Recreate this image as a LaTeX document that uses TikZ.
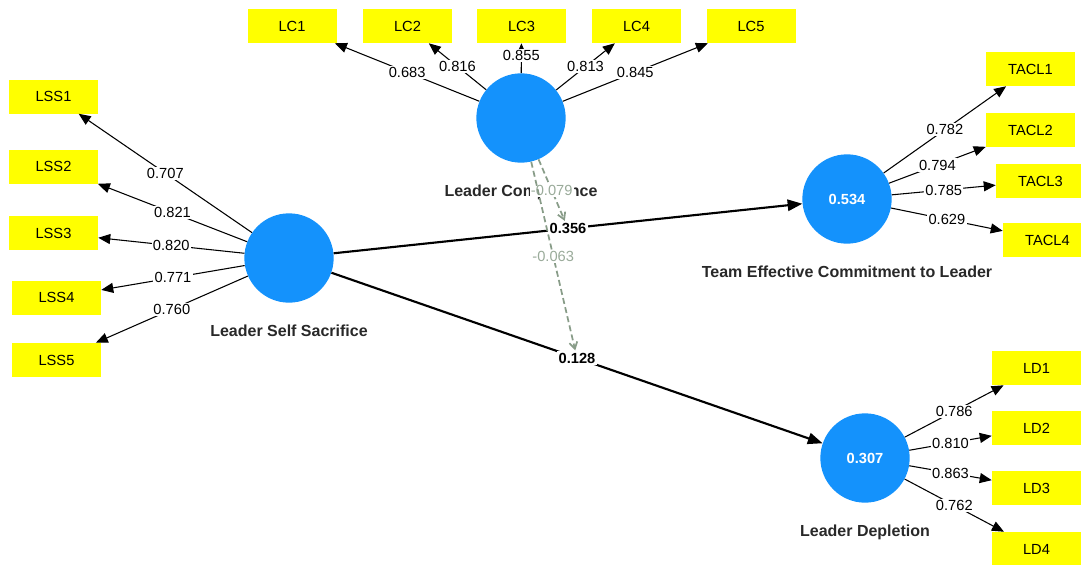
\documentclass[tikz,border=0pt]{standalone}
\usepackage{fontspec}
\setmainfont{Liberation Sans}
\usepackage{xcolor}
\usetikzlibrary{arrows.meta}
\usetikzlibrary{positioning}

\definecolor{lvblue}{RGB}{20,146,252}
\definecolor{indyellow}{RGB}{255,255,0}
\definecolor{modgreen}{RGB}{136,156,136}
\definecolor{namegray}{RGB}{40,40,40}

\begin{document}
\begin{tikzpicture}[x=0.75pt, y=-0.75pt,
  lv/.style={circle, fill=lvblue, minimum size=67pt, inner sep=0pt, text=white, font=\fontsize{11}{13}\selectfont\bfseries},
  ind/.style={fill=indyellow, minimum width=66.75pt, minimum height=25.5pt, inner sep=0pt, font=\fontsize{11}{13}\selectfont},
  lvname/.style={inner sep=0pt, text height=9pt, text depth=2.5pt, text=namegray, font=\fontsize{12}{14}\selectfont\bfseries},
  load/.style={draw, line width=0.8pt, -{Triangle[length=9pt,width=7.5pt]}},
  loadval/.style={fill=white, inner sep=1pt, font=\fontsize{11}{13}\selectfont},
  strpath/.style={draw, line width=1.6pt, -{Triangle[length=11pt,width=8.5pt]}},
  coef/.style={fill=white, inner sep=1pt, font=\fontsize{11}{13}\selectfont\bfseries},
  modpath/.style={draw=modgreen, line width=1.3pt, dash pattern=on 4.5pt off 2.5pt, -{Straight Barb[length=5pt,width=6pt]}},
  modval/.style={fill=white, inner sep=1pt, text=modgreen!85, font=\fontsize{11}{13}\selectfont}
]
  \useasboundingbox (0,0) rectangle (1081,564);
  \clip (0,0) rectangle (1081,564);

  % Latent variables
  \node[lv] (lc) at (521,118) {};
  \node[lv] (lss) at (289,258) {};
  \node[lv] (tacl) at (847,199) {0.534};
  \node[lv] (ld) at (865,458) {0.307};

  \node[lvname, below=16pt of lc] (lcname) {Leader Competence};
  \node[lvname, below=16pt of lss] (lssname) {Leader Self Sacrifice};
  \node[lvname, below=16pt of tacl] (taclname) {Team Effective Commitment to Leader};
  \node[lvname, below=16pt of ld] (ldname) {Leader Depletion};

  % Indicators of Leader Competence
  \node[ind] (lc1) at (292,26) {LC1};
  \node[ind] (lc2) at (407.5,26) {LC2};
  \node[ind] (lc3) at (521.5,26) {LC3};
  \node[ind] (lc4) at (636.5,26) {LC4};
  \node[ind] (lc5) at (751,26) {LC5};

  \draw[load] (lc) -- node[loadval] {0.683} (lc1);
  \draw[load] (lc) -- node[loadval] {0.816} (lc2);
  \draw[load] (lc) -- node[loadval, pos=0.6] {0.855} (lc3);
  \draw[load] (lc) -- node[loadval] {0.813} (lc4);
  \draw[load] (lc) -- node[loadval] {0.845} (lc5);

  % Indicators of Leader Self Sacrifice
  \node[ind] (lss1) at (53.5,96.5) {LSS1};
  \node[ind] (lss2) at (53.5,166.5) {LSS2};
  \node[ind] (lss3) at (53.5,233) {LSS3};
  \node[ind] (lss4) at (56.5,297.5) {LSS4};
  \node[ind] (lss5) at (56.5,360) {LSS5};

  \draw[load] (lss) -- node[loadval] {0.707} (lss1);
  \draw[load] (lss) -- node[loadval] {0.821} (lss2);
  \draw[load] (lss) -- node[loadval] {0.820} (lss3);
  \draw[load] (lss) -- node[loadval] {0.771} (lss4);
  \draw[load] (lss) -- node[loadval] {0.760} (lss5);

  % Indicators of Team Effective Commitment to Leader
  \node[ind] (tacl1) at (1030.5,69) {TACL1};
  \node[ind] (tacl2) at (1030.5,130) {TACL2};
  \node[ind] (tacl3) at (1040.5,181) {TACL3};
  \node[ind] (tacl4) at (1047.5,240) {TACL4};

  \draw[load] (tacl) -- node[loadval] {0.782} (tacl1);
  \draw[load] (tacl) -- node[loadval] {0.794} (tacl2);
  \draw[load] (tacl) -- node[loadval] {0.785} (tacl3);
  \draw[load] (tacl) -- node[loadval] {0.629} (tacl4);

  % Indicators of Leader Depletion
  \node[ind] (ld1) at (1036.5,368) {LD1};
  \node[ind] (ld2) at (1036.5,428) {LD2};
  \node[ind] (ld3) at (1036.5,488) {LD3};
  \node[ind] (ld4) at (1036.5,549) {LD4};

  \draw[load] (ld) -- node[loadval] {0.786} (ld1);
  \draw[load] (ld) -- node[loadval] {0.810} (ld2);
  \draw[load] (ld) -- node[loadval] {0.863} (ld3);
  \draw[load] (ld) -- node[loadval] {0.762} (ld4);

  % Structural paths
  \draw[strpath] (lss) -- node[coef] (c1) {0.356} (tacl);
  \draw[strpath] (lss) -- node[coef] (c2) {0.128} (ld);

  % Moderating effects of Leader Competence
  \draw[modpath] (lc) -- node[modval] {-0.079} (c1);
  \draw[modpath] (lc) -- node[modval] {-0.063} (c2);
\end{tikzpicture}
\end{document}
